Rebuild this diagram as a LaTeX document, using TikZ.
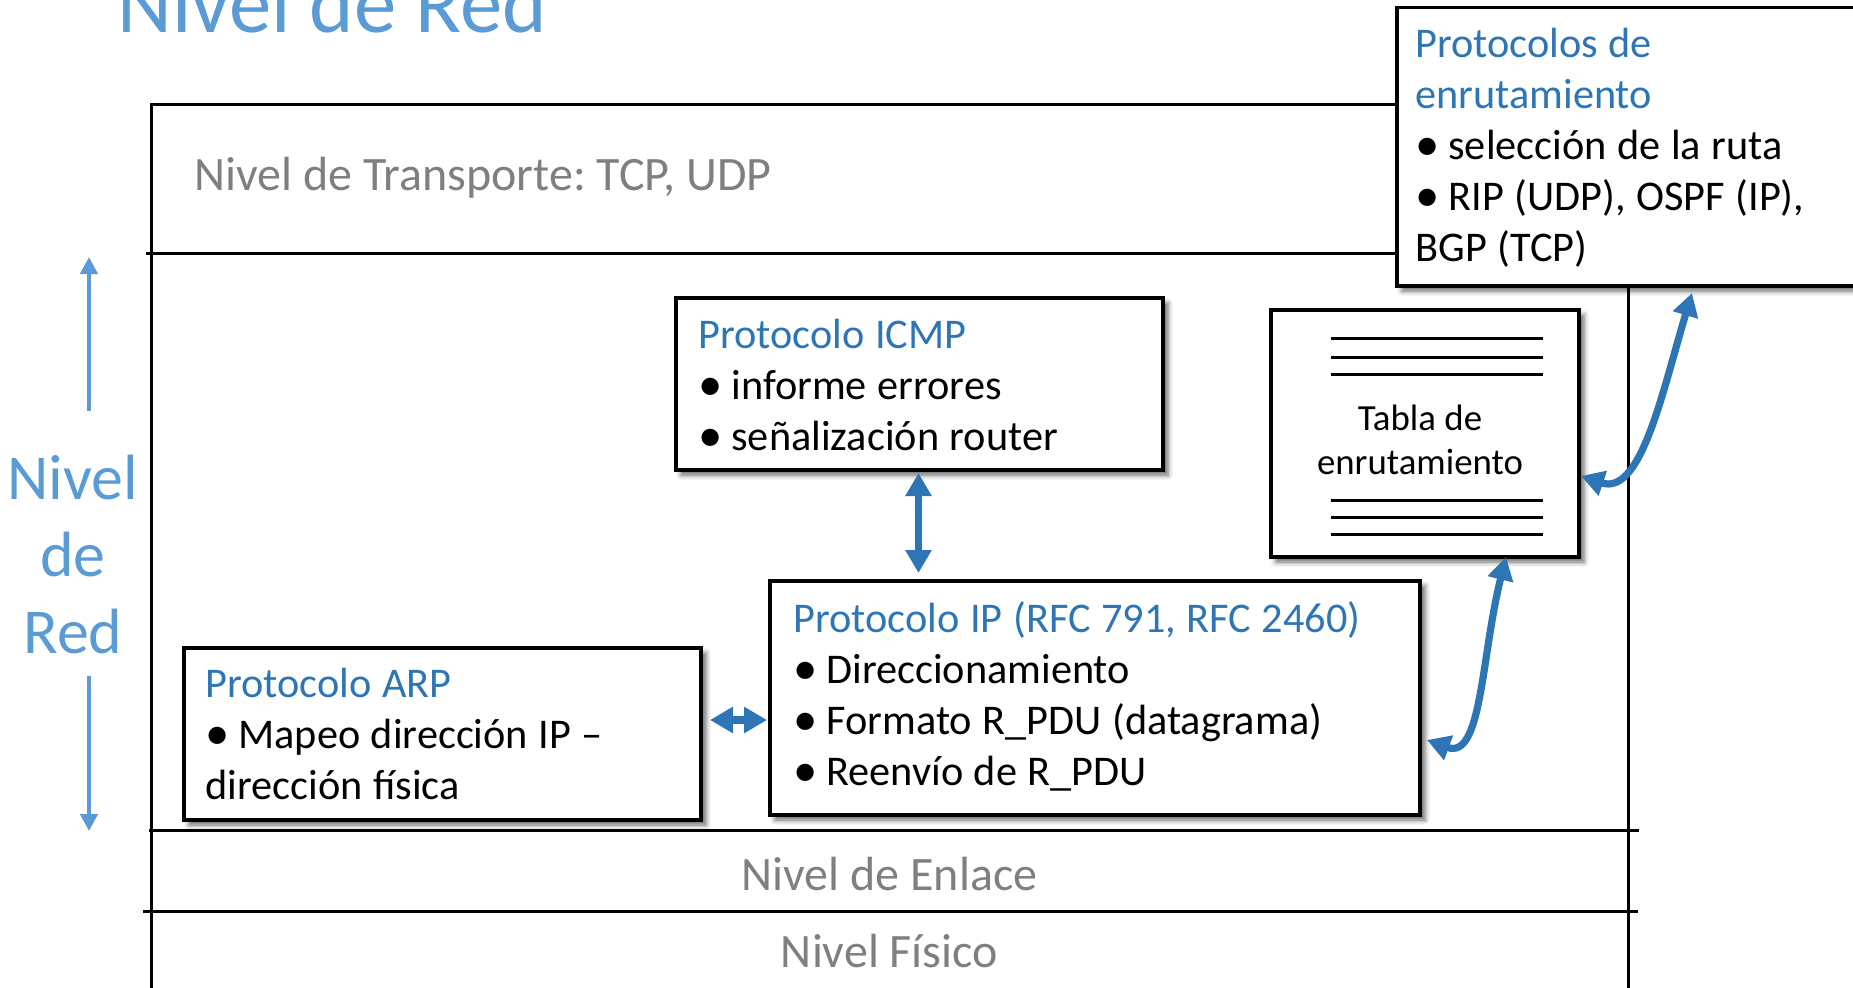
\documentclass[tikz,border=0pt]{standalone}
\usepackage{fontspec}
\setmainfont{Carlito}
\usetikzlibrary{arrows.meta,calc,shadows.blur}

\definecolor{azul}{HTML}{2E75B6}
\definecolor{azulclaro}{HTML}{5B9BD5}
\definecolor{gris}{HTML}{7F7F7F}
\newcommand{\punto}{\makebox[16.5pt][l]{\raisebox{-0.8pt}{\scalebox{1.15}{•}}}}

\begin{document}
\frenchspacing
\begin{tikzpicture}[
    x=0.5pt, y=-0.5pt,
    caja/.style={draw, line width=1.6pt, fill=white, inner sep=0pt, outer sep=0pt, anchor=north west,
      blur shadow={shadow xshift=2.5pt, shadow yshift=-2.5pt, shadow blur radius=2.5pt, shadow opacity=60}},
    texto/.style={inner sep=0pt, anchor=base west, text width=300pt,
      font=\fontsize{21.15}{25.5}\selectfont, execute at begin node={\spaceskip=5.3pt\relax}},
    nivel/.style={inner sep=0pt, text=gris, font=\fontsize{24}{28}\selectfont},
    marco/.style={line width=1.5pt},
    conector/.style={azul, line width=3.6pt,
      {Triangle[width=12.5pt,length=11.5pt]}-{Triangle[width=12.5pt,length=11.5pt]}},
    flecha nivel/.style={azulclaro, line width=2.25pt, -{Triangle[width=8.5pt,length=8.5pt]}}
  ]
  \useasboundingbox (0,0) rectangle (1853,987);

  \node[inner sep=0pt, anchor=base west, text=azulclaro, font=\fontsize{42.4}{50}\selectfont]
    (titulo) at (117,32) {Nivel de Red};

  \draw[marco] (151,1000) -- (151,104) -- (1628,104) -- (1628,1000);
  \draw[marco] (146,253) -- (1628,253);
  \draw[marco] (149,830) -- (1639,830);
  \draw[marco] (143,911) -- (1638,911);

  \node[nivel, anchor=base west] (transporte) at (194,190) {Nivel de Transporte: TCP, UDP};
  \node[nivel, anchor=base] (enlace) at (889.5,890) {Nivel de Enlace};
  \node[nivel, anchor=base] (fisico) at (889.5,967) {Nivel Físico};

  \node[inner sep=0pt, anchor=base, align=center, text width=80pt, text=azulclaro,
    font=\fontsize{32}{38.5}\selectfont] (nivelred) at (73,499) {Nivel\\de\\Red};
  \coordinate (subidaini) at (89,411);
  \coordinate (subidafin) at (89,257);
  \coordinate (bajadaini) at (89,676);
  \coordinate (bajadafin) at (89,831);
  \draw[flecha nivel] (subidaini) -- (subidafin);
  \draw[flecha nivel] (bajadaini) -- (bajadafin);

  \node[caja, minimum width=236.5pt, minimum height=139.25pt] (rutas) at (1397,7.5) {};
  \node[caja, minimum width=243.5pt, minimum height=86pt] (icmp) at (676,298) {};
  \node[caja, minimum width=154pt, minimum height=123.5pt] (tabla) at (1271,310) {};
  \node[caja, minimum width=325pt, minimum height=117pt] (ip) at (770,581) {};
  \node[caja, minimum width=258.5pt, minimum height=86pt] (arp) at (184,648) {};

  \node[texto] (rutastxt) at ($(rutas.north west)+(18,49.5)$)
    {\textcolor{azul}{Protocolos de}\\\textcolor{azul}{enrutamiento}\\\punto selección de la ruta\\\punto RIP (UDP), OSPF (IP),\\BGP (TCP)};
  \node[texto] (icmptxt) at ($(icmp.north west)+(22,50)$)
    {\textcolor{azul}{Protocolo ICMP}\\\punto informe errores\\\punto señalización router};
  \node[texto] (iptxt) at ($(ip.north west)+(23,51)$)
    {\textcolor{azul}{Protocolo IP (RFC 791, RFC 2460)}\\\punto Direccionamiento\\\punto Formato R\_PDU (datagrama)\\\punto Reenvío de R\_PDU};
  \node[texto] (arptxt) at ($(arp.north west)+(21,49)$)
    {\textcolor{azul}{Protocolo ARP}\\\punto Mapeo dirección IP –\\dirección física};
  \node[inner sep=0pt, anchor=base, text width=150pt, execute at begin node={\spaceskip=4.3pt\relax},
    font=\fontsize{18.4}{22}\selectfont] (tablatxt) at ($(tabla.north)+(-5,120)$) {\centering Tabla de\\enrutamiento\par};
  \foreach \y in {28,47,64,190,207,224}
    \draw[line width=1.5pt] ($(tabla.north west)+(60,\y)$) -- ($(tabla.north west)+(272,\y)$);

  \draw[conector] ($(icmp.south)+(-1,3)$) -- ($(icmp.south |- ip.north)+(-1,-8)$);
  \draw[conector] ($(arp.east)+(9,-14)$) -- ($(arp.east -| ip.west)+(-3,-14)$);
  \draw[conector] ($(ip.east)+(7,42)$) .. controls ($(ip.east)+(62,62)$) and ($(tabla.south)+(56,100)$) .. ($(tabla.south)+(81,0)$);
  \draw[conector] ($(tabla.east)+(2,42.5)$) .. controls ($(tabla.east)+(62,62.5)$) and ($(rutas.south)+(28.5,107)$) .. ($(rutas.south)+(58.5,7)$);
\end{tikzpicture}
\end{document}
